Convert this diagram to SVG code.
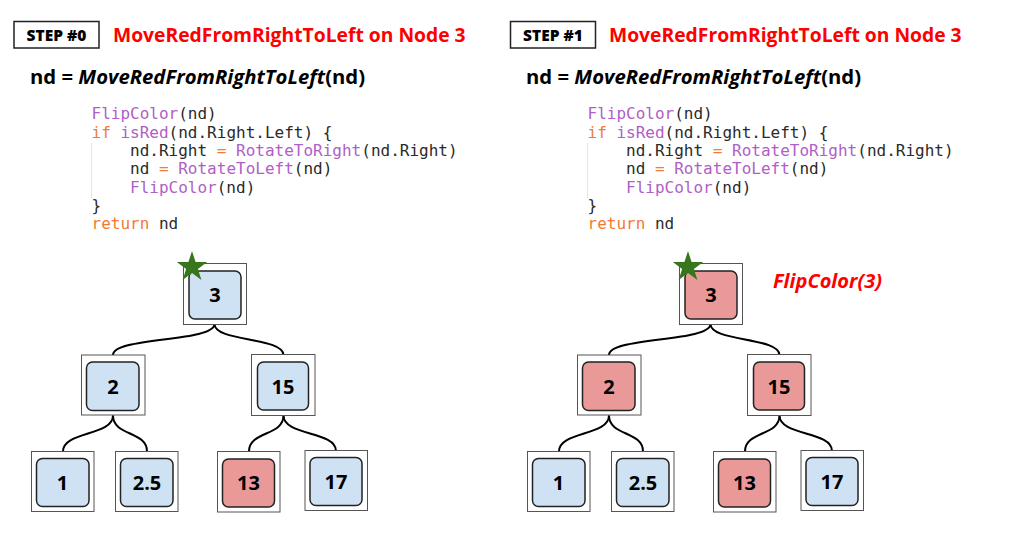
<svg xmlns="http://www.w3.org/2000/svg" width="1011" height="559" viewBox="0 0 1011 559">
<defs>
<style>
.bg{fill:#ffffff}
.stepbox{fill:#ffffff;stroke:#222;stroke-width:1.5}
.step{font-family:"Open Sans","Liberation Sans",sans-serif;font-weight:800;font-size:15.5px;fill:#000;text-anchor:middle}
.title{font-family:"Open Sans","Liberation Sans",sans-serif;font-weight:bold;font-size:19.3px;fill:#ff0000}
.formula{font-family:"Open Sans","Liberation Sans",sans-serif;font-weight:bold;font-size:20.3px;fill:#000}
.code{font-family:"DejaVu Sans Mono","Liberation Mono",monospace;font-size:16px;fill:#2a2a2a;white-space:pre}
.fn{fill:#b05ec8}
.kw{fill:#f37a35}
.guide{stroke:#e6e6e6;stroke-width:1}
.frame{fill:#ffffff;stroke:#555;stroke-width:1}
.blue{fill:#cfe2f3;stroke:#222;stroke-width:1.5}
.red{fill:#ea9999;stroke:#222;stroke-width:1.5}
.lbl{font-family:"Open Sans","Liberation Sans",sans-serif;font-weight:bold;font-size:20px;fill:#000;text-anchor:middle}
.edge{fill:none;stroke:#000;stroke-width:2}
.star{fill:#38761d}
.note{font-family:"Open Sans","Liberation Sans",sans-serif;font-weight:bold;font-style:italic;font-size:20px;fill:#ff0000}
</style>
<polygon id="starShape" class="star" points="0,-16 3.6,-4.9 15.2,-4.9 5.9,1.9 9.4,12.9 0,6 -9.4,12.9 -5.9,1.9 -15.2,-4.9 -3.6,-4.9"/>
</defs>
<rect class="bg" x="0" y="0" width="1011" height="559"/>

<!-- STEP #0 panel -->
<g id="step0">
  <g id="step0-header">
    <rect class="stepbox" x="14" y="21.5" width="85" height="26.5"/>
    <text class="step" x="56.5" y="40.5">STEP #0</text>
    <text class="title" x="113" y="42">MoveRedFromRightToLeft on Node 3</text>
    <text class="formula" x="30" y="84">nd = <tspan font-style="italic">MoveRedFromRightToLeft</tspan>(nd)</text>
  </g>
  <g id="step0-code">
    <line class="guide" x1="91.5" y1="143" x2="91.5" y2="198"/>
    <text class="code" x="91.5" y="119.3"><tspan class="fn">FlipColor</tspan>(nd)</text>
    <text class="code" x="91.5" y="137.6"><tspan class="kw">if</tspan> <tspan class="fn">isRed</tspan>(nd.Right.Left) {</text>
    <text class="code" x="91.5" y="155.9">    nd.Right <tspan class="kw">=</tspan> <tspan class="fn">RotateToRight</tspan>(nd.Right)</text>
    <text class="code" x="91.5" y="174.2">    nd <tspan class="kw">=</tspan> <tspan class="fn">RotateToLeft</tspan>(nd)</text>
    <text class="code" x="91.5" y="192.5">    <tspan class="fn">FlipColor</tspan>(nd)</text>
    <text class="code" x="91.5" y="210.8">}</text>
    <text class="code" x="91.5" y="229.1"><tspan class="kw">return</tspan> nd</text>
  </g>
  <g id="step0-edges">
    <path class="edge" d="M214.5,324 C214.5,342 113,337 113,355"/>
    <path class="edge" d="M214.5,324 C214.5,342 283.5,337 283.5,355"/>
    <path class="edge" d="M113,415.5 C113,436 63,431 63,451.5"/>
    <path class="edge" d="M113,415.5 C113,436 147,431 147,451.5"/>
    <path class="edge" d="M283.5,415.5 C283.5,436 249,431 249,451.5"/>
    <path class="edge" d="M283.5,415.5 C283.5,436 336,431 336,451"/>
  </g>
  <g id="step0-node3">
    <rect class="frame" x="183.5" y="263.5" width="63" height="61"/>
    <rect class="blue" x="189" y="271" width="52" height="48" rx="6"/>
    <text class="lbl" x="215" y="302">3</text>
  </g>
  <g id="step0-node2">
    <rect class="frame" x="81.5" y="355" width="63.5" height="60"/>
    <rect class="blue" x="86.5" y="362" width="52.5" height="48.5" rx="6"/>
    <text class="lbl" x="113" y="393.5">2</text>
  </g>
  <g id="step0-node15">
    <rect class="frame" x="251.5" y="354.5" width="63.5" height="61"/>
    <rect class="blue" x="257.5" y="362" width="51" height="48" rx="6"/>
    <text class="lbl" x="283" y="393.5">15</text>
  </g>
  <g id="step0-node1">
    <rect class="frame" x="31.5" y="451.5" width="62.5" height="60"/>
    <rect class="blue" x="36.5" y="458.5" width="52.5" height="48" rx="6"/>
    <text class="lbl" x="62.5" y="490">1</text>
  </g>
  <g id="step0-node2_5">
    <rect class="frame" x="115.5" y="451.5" width="62.5" height="60"/>
    <rect class="blue" x="120.5" y="458.5" width="52.5" height="48" rx="6"/>
    <text class="lbl" x="147" y="490">2.5</text>
  </g>
  <g id="step0-node13">
    <rect class="frame" x="217.5" y="451.5" width="62.5" height="60.5"/>
    <rect class="red" x="222.5" y="459" width="52" height="48" rx="6"/>
    <text class="lbl" x="248.5" y="490">13</text>
  </g>
  <g id="step0-node17">
    <rect class="frame" x="305" y="450.5" width="62.5" height="60"/>
    <rect class="blue" x="310" y="457.5" width="52" height="48" rx="6"/>
    <text class="lbl" x="336" y="489">17</text>
  </g>
  <use href="#starShape" x="192" y="267"/>
</g>

<!-- STEP #1 panel -->
<g id="step1">
  <g id="step1-header">
    <rect class="stepbox" x="510.5" y="21.5" width="85" height="26.5"/>
    <text class="step" x="553" y="40.5">STEP #1</text>
    <text class="title" x="609" y="42">MoveRedFromRightToLeft on Node 3</text>
    <text class="formula" x="526" y="84">nd = <tspan font-style="italic">MoveRedFromRightToLeft</tspan>(nd)</text>
  </g>
  <g id="step1-code">
    <line class="guide" x1="587.5" y1="143" x2="587.5" y2="198"/>
    <text class="code" x="587.5" y="119.3"><tspan class="fn">FlipColor</tspan>(nd)</text>
    <text class="code" x="587.5" y="137.6"><tspan class="kw">if</tspan> <tspan class="fn">isRed</tspan>(nd.Right.Left) {</text>
    <text class="code" x="587.5" y="155.9">    nd.Right <tspan class="kw">=</tspan> <tspan class="fn">RotateToRight</tspan>(nd.Right)</text>
    <text class="code" x="587.5" y="174.2">    nd <tspan class="kw">=</tspan> <tspan class="fn">RotateToLeft</tspan>(nd)</text>
    <text class="code" x="587.5" y="192.5">    <tspan class="fn">FlipColor</tspan>(nd)</text>
    <text class="code" x="587.5" y="210.8">}</text>
    <text class="code" x="587.5" y="229.1"><tspan class="kw">return</tspan> nd</text>
  </g>
  <g id="step1-edges" transform="translate(496,0)">
    <path class="edge" d="M214.5,324 C214.5,342 113,337 113,355"/>
    <path class="edge" d="M214.5,324 C214.5,342 283.5,337 283.5,355"/>
    <path class="edge" d="M113,415.5 C113,436 63,431 63,451.5"/>
    <path class="edge" d="M113,415.5 C113,436 147,431 147,451.5"/>
    <path class="edge" d="M283.5,415.5 C283.5,436 249,431 249,451.5"/>
    <path class="edge" d="M283.5,415.5 C283.5,436 336,431 336,451"/>
  </g>
  <g id="step1-node3" transform="translate(496,0)">
    <rect class="frame" x="183.5" y="263.5" width="63" height="61"/>
    <rect class="red" x="189" y="271" width="52" height="48" rx="6"/>
    <text class="lbl" x="215" y="302">3</text>
  </g>
  <g id="step1-node2" transform="translate(496,0)">
    <rect class="frame" x="81.5" y="355" width="63.5" height="60"/>
    <rect class="red" x="86.5" y="362" width="52.5" height="48.5" rx="6"/>
    <text class="lbl" x="113" y="393.5">2</text>
  </g>
  <g id="step1-node15" transform="translate(496,0)">
    <rect class="frame" x="251.5" y="354.5" width="63.5" height="61"/>
    <rect class="red" x="257.5" y="362" width="51" height="48" rx="6"/>
    <text class="lbl" x="283" y="393.5">15</text>
  </g>
  <g id="step1-node1" transform="translate(496,0)">
    <rect class="frame" x="31.5" y="451.5" width="62.5" height="60"/>
    <rect class="blue" x="36.5" y="458.5" width="52.5" height="48" rx="6"/>
    <text class="lbl" x="62.5" y="490">1</text>
  </g>
  <g id="step1-node2_5" transform="translate(496,0)">
    <rect class="frame" x="115.5" y="451.5" width="62.5" height="60"/>
    <rect class="blue" x="120.5" y="458.5" width="52.5" height="48" rx="6"/>
    <text class="lbl" x="147" y="490">2.5</text>
  </g>
  <g id="step1-node13" transform="translate(496,0)">
    <rect class="frame" x="217.5" y="451.5" width="62.5" height="60.5"/>
    <rect class="red" x="222.5" y="459" width="52" height="48" rx="6"/>
    <text class="lbl" x="248.5" y="490">13</text>
  </g>
  <g id="step1-node17" transform="translate(496,0)">
    <rect class="frame" x="305" y="450.5" width="62.5" height="60"/>
    <rect class="blue" x="310" y="457.5" width="52" height="48" rx="6"/>
    <text class="lbl" x="336" y="489">17</text>
  </g>
  <use href="#starShape" x="688" y="267"/>
  <text class="note" x="773" y="288">FlipColor(3)</text>
</g>
</svg>
